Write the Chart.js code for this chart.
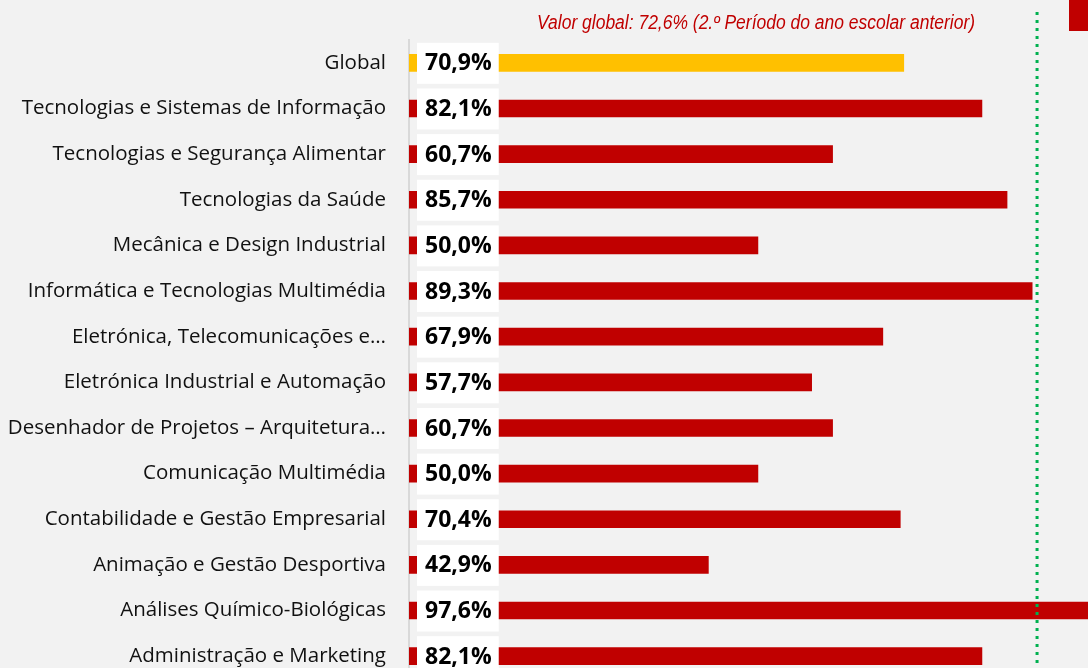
<!DOCTYPE html>
<html>
<head>
<meta charset="utf-8">
<script src="https://cdn.jsdelivr.net/npm/chart.js@4.4.1/dist/chart.umd.min.js"></script>
<style>
    html, body { margin: 0; padding: 0; background: #f2f2f2; overflow: hidden; }
    canvas { display: block; }
</style>
</head>
<body>
<canvas id="chart" width="1088" height="680"></canvas>
<script>
"use strict";
var categories = [
    "Global",
    "Tecnologias e Sistemas de Informação",
    "Tecnologias e Segurança Alimentar",
    "Tecnologias da Saúde",
    "Mecânica e Design Industrial",
    "Informática e Tecnologias Multimédia",
    "Eletrónica, Telecomunicações e…",
    "Eletrónica Industrial e Automação",
    "Desenhador de Projetos – Arquitetura…",
    "Comunicação Multimédia",
    "Contabilidade e Gestão Empresarial",
    "Animação e Gestão Desportiva",
    "Análises Químico-Biológicas",
    "Administração e Marketing"
];
var values = [70.9, 82.1, 60.7, 85.7, 50.0, 89.3, 67.9, 57.7, 60.7, 50.0, 70.4, 42.9, 97.6, 82.1];
var targetValue = 90;
var referenceNote = "Valor global: 72,6% (2.º Período do ano escolar anterior)";

var RED = "#c00000";
var YELLOW = "#ffc000";
var GREEN = "#00b050";
var LABEL_FONT = "Open Sans";

function fmt(v) {
    return v.toFixed(1).replace(".", ",") + "%";
}

// white box with the value, sitting on the start of each bar
var valueBoxes = {
    id: "valueBoxes",
    afterDatasetsDraw: function (chart) {
        var ctx = chart.ctx;
        var area = chart.chartArea;
        var meta = chart.getDatasetMeta(0);
        ctx.save();
        ctx.font = "bold 23px '" + LABEL_FONT + "'";
        ctx.textBaseline = "middle";
        meta.data.forEach(function (bar, i) {
            var txt = fmt(values[i]);
            var w = ctx.measureText(txt).width;
            var x0 = area.left + 8;
            ctx.fillStyle = "#ffffff";
            ctx.fillRect(x0, bar.y - 20, w + 15, 41);
            ctx.fillStyle = "#000000";
            ctx.fillText(txt, x0 + 8, bar.y + 1);
        });
        ctx.restore();
    }
};

var targetLine = {
    id: "targetLine",
    afterDraw: function (chart) {
        var ctx = chart.ctx;
        var x = chart.scales.x.getPixelForValue(targetValue);
        ctx.save();
        ctx.strokeStyle = GREEN;
        ctx.lineWidth = 3;
        ctx.setLineDash([3, 5]);
        ctx.beginPath();
        ctx.moveTo(x, 12);
        ctx.lineTo(x, chart.height);
        ctx.stroke();
        ctx.setLineDash([]);

        ctx.font = "italic 20px 'Liberation Sans Narrow', 'Liberation Sans'";
        ctx.fillStyle = RED;
        ctx.textAlign = "right";
        ctx.textBaseline = "middle";
        ctx.fillText(referenceNote, x - 62, 23, 438);

        // legend swatch cut off at the right edge
        ctx.fillStyle = RED;
        ctx.fillRect(chart.width - 19, 0, 19, 31);
        ctx.restore();
    }
};

var ctx = document.getElementById("chart").getContext("2d");
var chart = new Chart(ctx, {
    type: "bar",
    data: {
        labels: categories,
        datasets: [{
            data: values,
            backgroundColor: values.map(function (v, i) { return i === 0 ? YELLOW : RED; }),
            barThickness: 17
        }]
    },
    options: {
        indexAxis: "y",
        responsive: false,
        animation: false,
        layout: { padding: { top: 40, bottom: 1, left: 0, right: 0 } },
        scales: {
            x: { min: 0, max: 97.3, display: false },
            y: {
                grid: { display: false, drawTicks: false },
                border: { display: true, color: "#d9d9d9", width: 2 },
                ticks: {
                    padding: 23,
                    autoSkip: false,
                    color: "#111111",
                    font: { family: LABEL_FONT, size: 20.5 }
                },
                afterFit: function (scale) {
                    scale.width = 409;
                    scale.paddingTop = 0;
                    scale.paddingBottom = 0;
                }
            }
        },
        plugins: {
            legend: { display: false },
            tooltip: { enabled: false }
        }
    },
    plugins: [valueBoxes, targetLine]
});
</script>
</body>
</html>
